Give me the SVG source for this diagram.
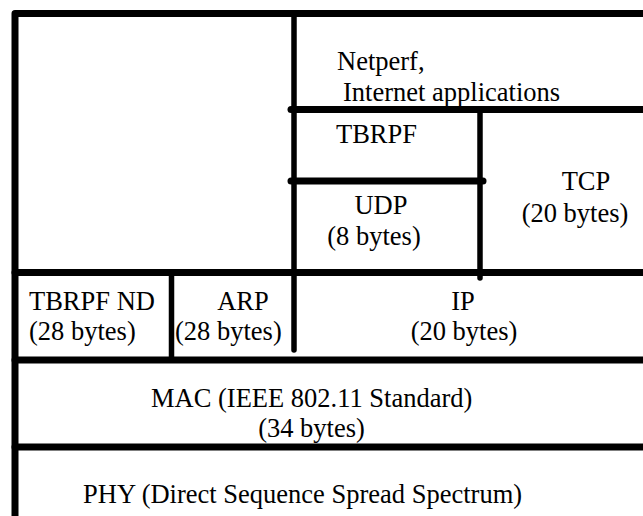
<svg xmlns="http://www.w3.org/2000/svg" width="643" height="516" viewBox="0 0 643 516">
  <style>
    .ln { stroke: #000; fill: none; stroke-linecap: round; stroke-linejoin: round; }
    .thick { stroke-width: 7; }
    .thin { stroke-width: 5.5; }
    text { font-family: 'Liberation Serif', 'Times New Roman', serif; font-size: 26.5px; fill: #000; }
    .c { text-anchor: middle; }
  </style>
  <rect width="643" height="516" fill="#fff"/>

  <!-- protocol stack dividers -->
  <g id="connectors">
    <path class="ln thick" d="M15,520 V13.5 H650"/>
    <path class="ln thin" d="M294,13 V350"/>
    <path class="ln thick" d="M291,109.5 H650"/>
    <path class="ln thick" d="M291,181 H483"/>
    <path class="ln thin" d="M480,109.5 V278"/>
    <path class="ln thick" d="M15,272.5 H650"/>
    <path class="ln thin" d="M171.5,272.5 V359"/>
    <path class="ln thick" d="M15,360 H650"/>
    <path class="ln thick" d="M15,447 H650"/>
  </g>

  <g id="app">
    <text x="337" y="70">Netperf,</text>
    <text x="343" y="101">Internet applications</text>
  </g>
  <g id="tbrpf">
    <text x="336" y="143">TBRPF</text>
  </g>
  <g id="udp">
    <text class="c" x="381" y="214">UDP</text>
    <text class="c" x="374" y="245">(8 bytes)</text>
  </g>
  <g id="tcp">
    <text class="c" x="586" y="190">TCP</text>
    <text class="c" x="575" y="222">(20 bytes)</text>
  </g>
  <g id="tbrpf-nd">
    <text x="29" y="310">TBRPF ND</text>
    <text x="29" y="340">(28 bytes)</text>
  </g>
  <g id="arp">
    <text class="c" x="243" y="310">ARP</text>
    <text x="175" y="340">(28 bytes)</text>
  </g>
  <g id="ip">
    <text class="c" x="463" y="310">IP</text>
    <text class="c" x="464" y="340">(20 bytes)</text>
  </g>
  <g id="mac">
    <text x="151" y="407">MAC (IEEE 802.11 Standard)</text>
    <text class="c" x="311.5" y="437">(34 bytes)</text>
  </g>
  <g id="phy">
    <text x="83" y="503">PHY (Direct Sequence Spread Spectrum)</text>
  </g>
</svg>
